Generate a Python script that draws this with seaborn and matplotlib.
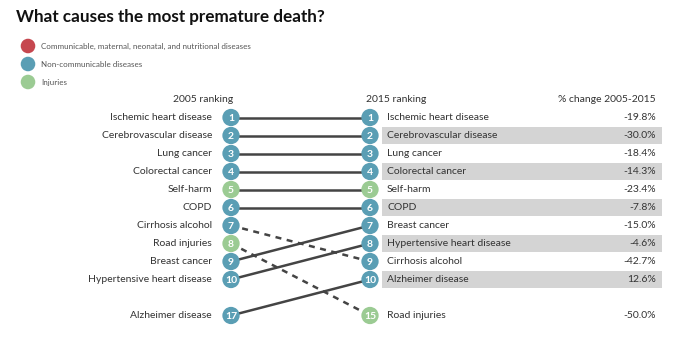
import matplotlib
matplotlib.use("Agg")
import matplotlib.pyplot as plt
import seaborn as sns
import pandas as pd

# ---- data ----
causes = ["Ischemic heart disease", "Cerebrovascular disease", "Lung cancer",
          "Colorectal cancer", "Self-harm", "COPD", "Cirrhosis alcohol",
          "Road injuries", "Breast cancer", "Hypertensive heart disease",
          "Alzheimer disease"]
rank_2005 = [1, 2, 3, 4, 5, 6, 7, 8, 9, 10, 17]
rank_2015 = [1, 2, 3, 4, 5, 6, 9, 15, 7, 8, 10]
groups = ["Non-communicable diseases"] * 4 + ["Injuries"] + ["Non-communicable diseases"] * 2 + \
         ["Injuries"] + ["Non-communicable diseases"] * 3
pct_change = [-19.8, -30.0, -18.4, -14.3, -23.4, -7.8, -42.7, -50.0, -15.0, -4.6, 12.6]
legend_labels = ["Communicable, maternal, neonatal, and nutritional diseases",
                 "Non-communicable diseases", "Injuries"]
palette = {"Communicable, maternal, neonatal, and nutritional diseases": "#C6474F",
           "Non-communicable diseases": "#5A9EB4",
           "Injuries": "#9BCB93"}
title = "What causes the most premature death?"

FONT = "Lato"
sns.set_theme(style="white")
plt.rcParams["font.family"] = [FONT, "DejaVu Sans"]

W, H = 677, 338
fig = plt.figure(figsize=(W / 100, H / 100), dpi=100)
ax = fig.add_axes([0, 0, 1, 1])
ROW0, ROWH = 117.5, 18


def pos(r):
    # ranks beyond top 10 shown on a separate row after a gap
    return r if r <= 10 else 12


ax.set_xlim(0, W)
ax.set_ylim(1 + (H - ROW0) / ROWH, 1 - ROW0 / ROWH)
ax.axis("off")

XL, XR = 231, 370

df = pd.DataFrame({"cause": causes, "r05": rank_2005, "r15": rank_2015,
                   "group": groups, "pct": pct_change})
df["y05"] = df["r05"].map(pos)
df["y15"] = df["r15"].map(pos)
df["direction"] = ["down" if b > a else "up" for a, b in zip(df.r05, df.r15)]

# lines
long = pd.concat([
    pd.DataFrame({"cause": df.cause, "x": XL, "y": df.y05, "direction": df.direction}),
    pd.DataFrame({"cause": df.cause, "x": XR, "y": df.y15, "direction": df.direction}),
])
sns.lineplot(data=long, x="x", y="y", units="cause", estimator=None, style="direction",
             dashes={"up": "", "down": (2.4, 2.2)}, color="#444444", linewidth=1.8,
             legend=False, ax=ax, zorder=2)

# gray bands for 2015 list
df15 = df.sort_values("r15")
band = df15[df15.r15.rank().astype(int) % 2 == 0]
ax.barh(band.y15, width=280, left=382, height=0.9, color="#D4D4D4", zorder=1, linewidth=0)

# circles
pts = pd.concat([
    pd.DataFrame({"x": XL, "y": df.y05, "group": df.group, "r": df.r05}),
    pd.DataFrame({"x": XR, "y": df.y15, "group": df.group, "r": df.r15}),
])
sns.scatterplot(data=pts, x="x", y="y", hue="group", palette=palette, s=155,
                edgecolor="none", legend=False, ax=ax, zorder=3)
for _, p in pts.iterrows():
    ax.text(p.x, p.y + 0.03, str(p.r), color="white", fontsize=7.5, fontweight="bold",
            ha="center", va="center", zorder=4)

lab_col = "#333333"
for _, r in df.iterrows():
    ax.text(212, r.y05, r.cause, ha="right", va="center", fontsize=7.5, color=lab_col)
    ax.text(387, r.y15, r.cause, ha="left", va="center", fontsize=7.5, color=lab_col)
    ax.text(656, r.y15, f"{r.pct:.1f}%", ha="right", va="center", fontsize=7.5, color=lab_col)

hy = 1 - (ROW0 - 99) / ROWH
ax.text(233, hy, "2005 ranking", ha="right", va="center", fontsize=7.5, color=lab_col)
ax.text(366, hy, "2015 ranking", ha="left", va="center", fontsize=7.5, color=lab_col)
ax.text(656, hy, "% change 2005-2015", ha="right", va="center", fontsize=7.5, color=lab_col)

# legend
leg = pd.DataFrame({"label": legend_labels, "x": 28,
                    "y": [1 - (ROW0 - yy) / ROWH for yy in (46, 64, 82)]})
sns.scatterplot(data=leg, x="x", y="y", hue="label", palette=palette, s=110,
                edgecolor="none", legend=False, ax=ax, zorder=3)
for _, l in leg.iterrows():
    ax.text(41, l.y, l.label, ha="left", va="center", fontsize=5.8, color="#555555")

fig.text(16 / W, 1 - 17 / H, title, ha="left", va="center", fontsize=12.3,
         fontweight="bold", color="#111111")

fig.savefig("out.png", dpi=100, facecolor="white")
